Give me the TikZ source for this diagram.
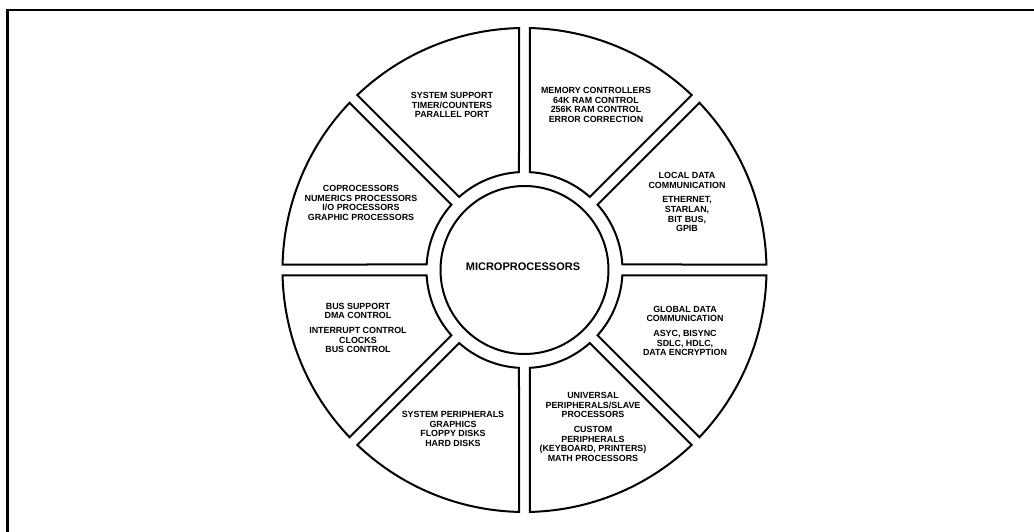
\documentclass[tikz,border=0pt]{standalone}
\usepackage{fontspec}
\setmainfont{Liberation Sans}
\begin{document}
\begin{tikzpicture}[x=1pt,y=1pt,
  frameline/.style={line width=2.6pt, line cap=rect},
  sectorline/.style={line width=2pt, line join=miter},
  lbl/.style={font=\fontsize{8.9}{9.7}\selectfont\bfseries, align=center, inner sep=0pt},
  hub/.style={circle, draw, line width=2pt, minimum size=168pt, inner sep=0pt}]
\useasboundingbox (-524.5,-262) rectangle (509.5,270);
% frame (top and left edges)
\coordinate (fl) at (-517,-262);
\coordinate (ftl) at (-517,260);
\coordinate (ftr) at (509.5,260);
\draw[frameline] (fl) -- (ftl) -- (ftr);
% sectors
\def\Ro{242}\def\Ri{98}\def\g{5.5}
\pgfmathsetmacro{\dR}{asin(\g/\Ro)}
\pgfmathsetmacro{\dr}{asin(\g/\Ri)}
\foreach \a in {0,45,...,315}{
  \pgfmathsetmacro{\sa}{\a+\dR}
  \pgfmathsetmacro{\ea}{\a+45-\dR}
  \pgfmathsetmacro{\si}{\a+45-\dr}
  \pgfmathsetmacro{\ei}{\a+\dr}
  \draw[sectorline] (\sa:\Ro) arc[start angle=\sa, end angle=\ea, radius=\Ro]
    -- (\si:\Ri) arc[start angle=\si, end angle=\ei, radius=\Ri] -- cycle;
}
% hub
\node[hub] (micro) at (0,0) {};
\node[font=\fontsize{11}{12}\selectfont\bfseries, inner sep=0pt] (microtxt) at (-1.5,3) {MICROPROCESSORS};
% labels
\node[lbl] (sys) at (-72.5,165) {SYSTEM SUPPORT\\TIMER/COUNTERS\\PARALLEL PORT};
\node[lbl] (mem) at (71.5,165) {MEMORY CONTROLLERS\\64K RAM CONTROL\\256K RAM CONTROL\\ERROR CORRECTION};
\node[lbl] (local) at (162.5,68) {LOCAL DATA\\COMMUNICATION\\[5pt]ETHERNET,\\STARLAN,\\BIT BUS,\\GPIB};
\node[lbl] (copro) at (-163.5,67) {COPROCESSORS\\NUMERICS PROCESSORS\\I/O PROCESSORS\\GRAPHIC PROCESSORS};
\node[lbl] (bus) at (-166.5,-58) {BUS SUPPORT\\DMA CONTROL\\[5pt]INTERRUPT CONTROL\\CLOCKS\\BUS CONTROL};
\node[lbl] (global) at (160.5,-61) {GLOBAL DATA\\COMMUNICATION\\[5pt]ASYC, BISYNC\\SDLC, HDLC,\\DATA ENCRYPTION};
\node[lbl] (periph) at (-71.5,-159) {SYSTEM PERIPHERALS\\GRAPHICS\\FLOPPY DISKS\\HARD DISKS};
\node[lbl] (univ) at (68.5,-157) {UNIVERSAL\\PERIPHERALS/SLAVE\\PROCESSORS\\[5pt]CUSTOM\\PERIPHERALS\\(KEYBOARD, PRINTERS)\\MATH PROCESSORS};
\end{tikzpicture}
\end{document}
